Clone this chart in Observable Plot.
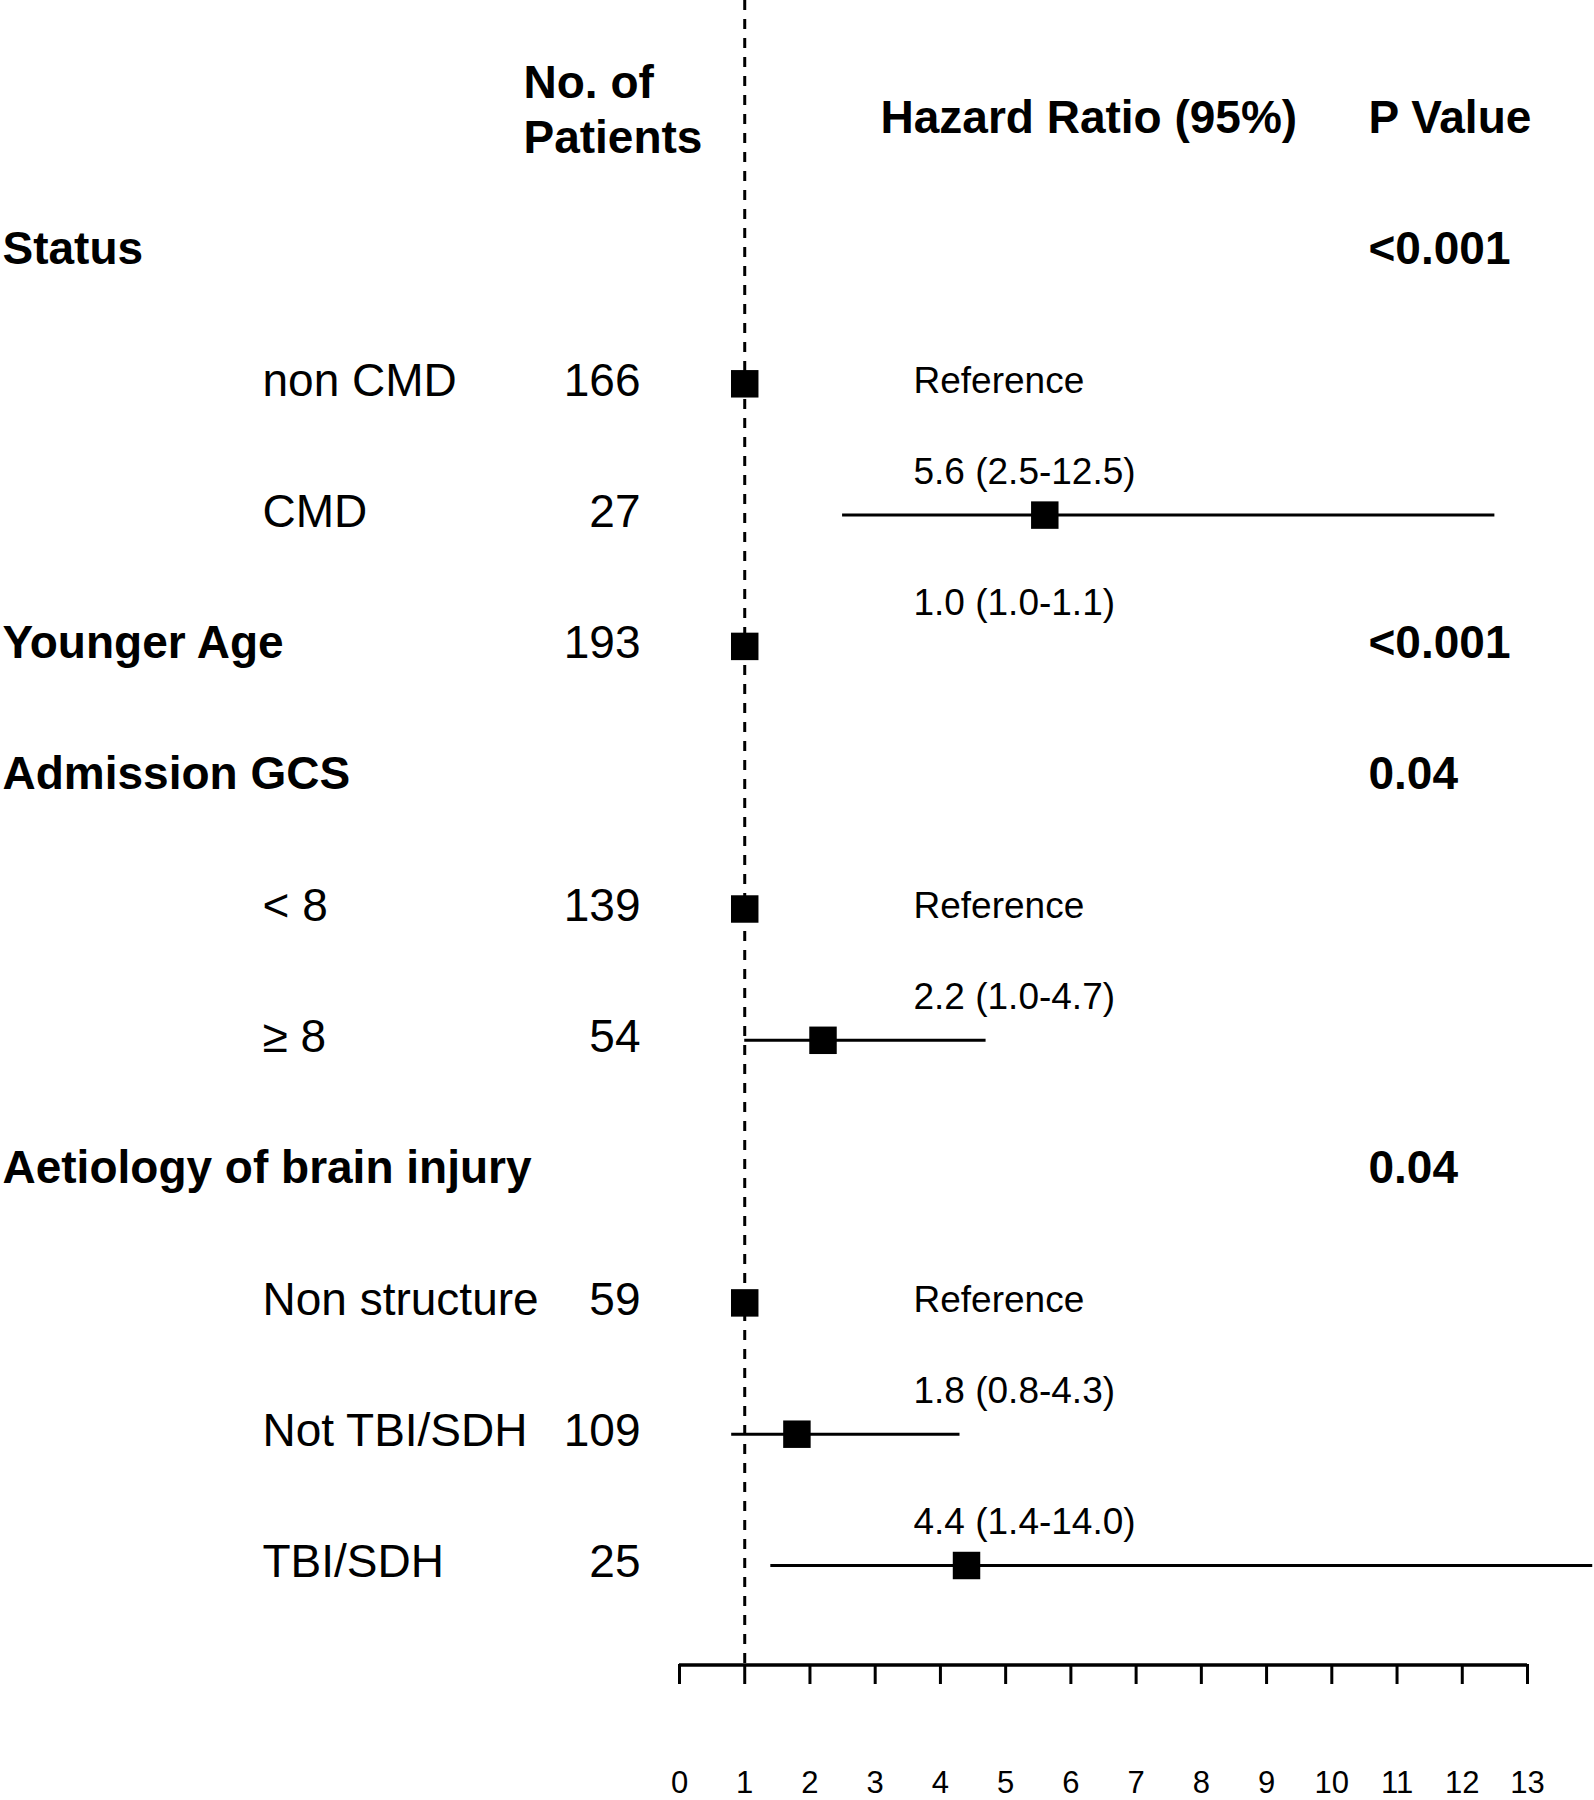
<!DOCTYPE html>
<html>
<head>
<meta charset="utf-8">
<script src="https://cdn.jsdelivr.net/npm/d3@7"></script>
<script src="https://cdn.jsdelivr.net/npm/@observablehq/plot@0.6"></script>
<style>
  html, body { margin: 0; padding: 0; background: #fff; }
  #chart svg { display: block; }
</style>
</head>
<body>
<div id="chart"></div>
<script>
// ---- data ----
const rowLabels = ["Status", "non CMD", "CMD", "Younger Age", "Admission GCS", "< 8", "\u2265 8",
  "Aetiology of brain injury", "Non structure", "Not TBI/SDH", "TBI/SDH"];
const rowIsGroup = [true, false, false, true, true, false, false, true, false, false, false];
const patients = [null, 166, 27, 193, null, 139, 54, null, 59, 109, 25];
const hazard = [null, 1.0, 5.6, 1.0, null, 1.0, 2.2, null, 1.0, 1.8, 4.4];
const lower = [null, null, 2.5, 1.0, null, null, 1.0, null, null, 0.8, 1.4];
const upper = [null, null, 12.5, 1.1, null, null, 4.7, null, null, 4.3, 14.0];
const hrLabels = [null, "Reference", "5.6 (2.5-12.5)", "1.0 (1.0-1.1)", null, "Reference",
  "2.2 (1.0-4.7)", null, "Reference", "1.8 (0.8-4.3)", "4.4 (1.4-14.0)"];
const pValues = ["<0.001", null, null, "<0.001", "0.04", null, null, "0.04", null, null, null];
const xTicks = [0, 1, 2, 3, 4, 5, 6, 7, 8, 9, 10, 11, 12, 13];
const refValue = 1;
const headers = {patients: "No. of\nPatients", hr: "Hazard Ratio (95%)", p: "P Value"};

// ---- table built from the arrays ----
const rows = rowLabels.map((label, i) => ({
  row: i, label, group: rowIsGroup[i], n: patients[i], hr: hazard[i],
  lo: lower[i], hi: upper[i], hrText: hrLabels[i], p: pValues[i]
}));
const headerRow = -1;
const axisRow = 10.78;

const font = "Liberation Sans, Arial, Helvetica, sans-serif";

const chart = Plot.plot({
  width: 1594,
  height: 1800,
  marginTop: 0,
  marginBottom: 136,
  marginLeft: 0,
  marginRight: 0,
  x: {domain: [0, 13], range: [679, 1527]},
  y: {domain: [0, 10], range: [249, 1562], axis: null},
  style: {fontFamily: font, color: "black", background: "white"},
  marks: [
    // reference dashed line at HR = 1
    Plot.ruleX([refValue], {stroke: "black", strokeWidth: 3, strokeDasharray: "10,9"}),
    // column headers
    Plot.text([headers.patients], {text: d => d, y: () => headerRow, frameAnchor: "left", dx: 523, dy: -10,
      textAnchor: "start", fontSize: 46, fontWeight: "bold", lineHeight: 1.2}),
    Plot.text([headers.hr], {text: d => d, y: () => headerRow, frameAnchor: "left", dx: 880,
      textAnchor: "start", fontSize: 46, fontWeight: "bold"}),
    Plot.text([headers.p], {text: d => d, y: () => headerRow, frameAnchor: "left", dx: 1368,
      textAnchor: "start", fontSize: 46, fontWeight: "bold"}),
    // row labels
    Plot.text(rows.filter(d => d.group), {text: "label", y: "row", frameAnchor: "left", dx: 2,
      textAnchor: "start", fontSize: 46, fontWeight: "bold"}),
    Plot.text(rows.filter(d => !d.group), {text: "label", y: "row", frameAnchor: "left", dx: 262,
      textAnchor: "start", fontSize: 46}),
    // number of patients
    Plot.text(rows.filter(d => d.n != null), {text: d => String(d.n), y: "row", frameAnchor: "left", dx: 640,
      textAnchor: "end", fontSize: 46}),
    // HR labels
    Plot.text(rows.filter(d => d.hrText === "Reference"), {text: "hrText", y: "row", frameAnchor: "left", dx: 913,
      textAnchor: "start", fontSize: 37}),
    Plot.text(rows.filter(d => d.hrText && d.hrText !== "Reference"), {text: "hrText", y: "row", frameAnchor: "left", dx: 913,
      dy: -40, textAnchor: "start", fontSize: 37}),
    // p values
    Plot.text(rows.filter(d => d.p), {text: "p", y: "row", frameAnchor: "left", dx: 1368,
      textAnchor: "start", fontSize: 46, fontWeight: "bold"}),
    // confidence intervals
    Plot.ruleY(rows.filter(d => d.lo != null), {y: "row", x1: "lo", x2: "hi", stroke: "black", strokeWidth: 3, dy: 3}),
    // point estimates
    Plot.dot(rows.filter(d => d.hr != null), {x: "hr", y: "row", symbol: "square", r: 15.5, fill: "black", stroke: "none", dy: 3}),
    // x axis line
    Plot.ruleY([axisRow], {x1: xTicks[0], x2: xTicks[xTicks.length - 1], stroke: "black", strokeWidth: 3.5}),
    Plot.axisX({ticks: xTicks, tickFormat: d => String(d), tickSize: 20, tickPadding: 86,
      fontSize: 31, strokeWidth: 3, stroke: "black", fill: "black", label: null})
  ]
});
document.getElementById("chart").appendChild(chart);
</script>
</body>
</html>
